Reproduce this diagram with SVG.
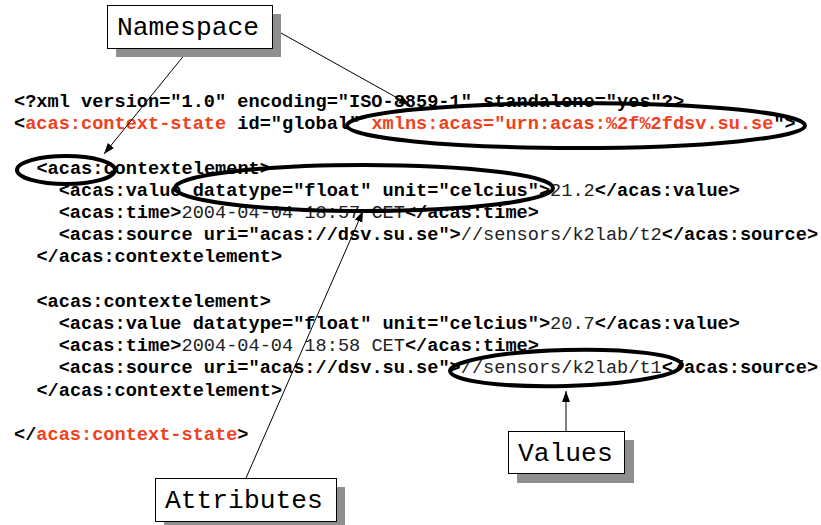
<svg xmlns="http://www.w3.org/2000/svg" width="821" height="525" viewBox="0 0 821 525">
<style>
.code{font-family:"Liberation Mono","Courier New",monospace;font-size:18.63px;font-weight:bold;fill:#000}
.n{font-weight:normal;fill:#222}
.r{fill:#f2401c}
.lbl{font-family:"Liberation Mono","Courier New",monospace;font-size:26.3px;fill:#000}
.box{fill:#fff;stroke:#000;stroke-width:1}
.shadow{fill:#8f8f8f}
.oval{fill:none;stroke:#000;stroke-width:4}
.conn{stroke:#000;stroke-width:1;fill:none}
</style>
<defs>
<marker id="ah" markerUnits="userSpaceOnUse" markerWidth="12" markerHeight="10" refX="11" refY="4" orient="auto">
<path d="M0,0 L11,4 L0,8 Z" fill="#000"/>
</marker>
</defs>
<rect width="821" height="525" fill="#fff"/>
<g id="code">
<text class="code" x="14" y="107">&lt;?xml version="1.0" encoding="ISO-8859-1" standalone="yes"?&gt;</text>
<text class="code" x="14" y="129.2">&lt;<tspan class="r">acas:context-state</tspan> id="global" <tspan class="r">xmlns:acas="urn:acas:%2f%2fdsv.su.se</tspan>"&gt;</text>
<text class="code" x="36.4" y="173.6">&lt;acas:contextelement&gt;</text>
<text class="code" x="58.7" y="195.8">&lt;acas:value datatype="float" unit="celcius"&gt;<tspan class="n">21.2</tspan>&lt;/acas:value&gt;</text>
<text class="code" x="58.7" y="218">&lt;acas:time&gt;<tspan class="n">2004-04-04 18:57 CET</tspan>&lt;/acas:time&gt;</text>
<text class="code" x="58.7" y="240.2">&lt;acas:source uri="acas://dsv.su.se"&gt;<tspan class="n">//sensors/k2lab/t2</tspan>&lt;/acas:source&gt;</text>
<text class="code" x="36.4" y="262.4">&lt;/acas:contextelement&gt;</text>
<text class="code" x="36.4" y="306.8">&lt;acas:contextelement&gt;</text>
<text class="code" x="58.7" y="329">&lt;acas:value datatype="float" unit="celcius"&gt;<tspan class="n">20.7</tspan>&lt;/acas:value&gt;</text>
<text class="code" x="58.7" y="351.2">&lt;acas:time&gt;<tspan class="n">2004-04-04 18:58 CET</tspan>&lt;/acas:time&gt;</text>
<text class="code" x="58.7" y="373.4">&lt;acas:source uri="acas://dsv.su.se"&gt;<tspan class="n">//sensors/k2lab/t1</tspan>&lt;/acas:source&gt;</text>
<text class="code" x="36.4" y="395.6">&lt;/acas:contextelement&gt;</text>
<text class="code" x="14" y="440">&lt;/<tspan class="r">acas:context-state</tspan>&gt;</text>
</g>
<g id="highlights">
<ellipse class="oval" cx="576" cy="125.5" rx="229" ry="22.5"/>
<ellipse class="oval" cx="66" cy="170" rx="49" ry="14"/>
<ellipse class="oval" cx="364" cy="188" rx="189" ry="23"/>
<ellipse class="oval" cx="566" cy="368" rx="116" ry="18" transform="rotate(-1.5 566 368)"/>
</g>
<g id="connectors">
<line class="conn" x1="190" y1="48" x2="104" y2="154" marker-end="url(#ah)"/>
<line class="conn" x1="272" y1="28" x2="410" y2="105" marker-end="url(#ah)"/>
<line class="conn" x1="246" y1="478" x2="363" y2="211" marker-end="url(#ah)"/>
<line class="conn" x1="566" y1="431" x2="566" y2="391" marker-end="url(#ah)"/>
</g>
<g id="namespace">
<rect class="shadow" x="116" y="14" width="165" height="43"/>
<rect class="box" x="107.5" y="5.5" width="165" height="43"/>
<text class="lbl" x="117" y="34.5">Namespace</text>
</g>
<g id="attributes">
<rect class="shadow" x="164" y="487" width="181" height="43"/>
<rect class="box" x="155.5" y="478.5" width="181" height="43"/>
<text class="lbl" x="165" y="508">Attributes</text>
</g>
<g id="values">
<rect class="shadow" x="517" y="440" width="117" height="43"/>
<rect class="box" x="508.5" y="431.5" width="116" height="42"/>
<text class="lbl" x="518" y="460.5">Values</text>
</g>
</svg>
